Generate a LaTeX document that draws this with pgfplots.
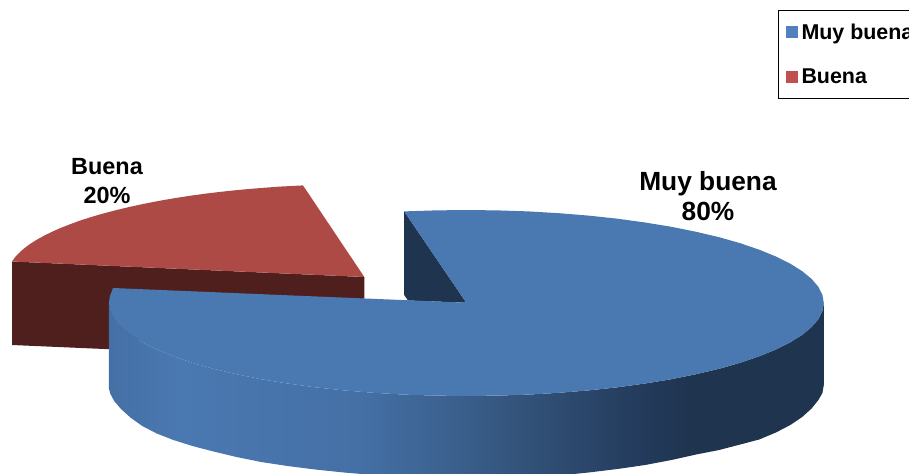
\documentclass[border=0pt]{standalone}
\usepackage{fontspec}
\setmainfont{Liberation Sans}
\usepackage{pgfplots}
\pgfplotsset{compat=1.18}
\definecolor{topblue}{HTML}{4A78B0}
\definecolor{topred}{HTML}{AE4A45}
\definecolor{darkred}{HTML}{4E1F1D}
\definecolor{navy}{HTML}{1F344F}
\definecolor{legblue}{HTML}{4F81BD}
\definecolor{legred}{HTML}{C0504D}
\definecolor{sideA}{HTML}{3A5F8B}
\definecolor{sideB}{HTML}{2F4D72}
\definecolor{sideC}{HTML}{22395A}
\definecolor{sideD}{HTML}{4470A6}
\pgfdeclarehorizontalshading{pieside}{100bp}{
  color(0bp)=(sideD);
  color(25bp)=(sideD);
  color(30bp)=(topblue);
  color(42.6bp)=(sideD);
  color(49.6bp)=(sideA);
  color(55.9bp)=(sideB);
  color(62.9bp)=(sideC);
  color(65.6bp)=(navy);
  color(75bp)=(navy);
  color(100bp)=(navy)}
\begin{document}
\begin{tikzpicture}
\useasboundingbox (0,0) rectangle (909bp,474bp);
\clip (0,0) rectangle (909bp,474bp);
\begin{axis}[
  scale only axis, width=909bp, height=474bp,
  xmin=0, xmax=909, ymin=0, ymax=474, y dir=reverse,
  axis lines=none, clip=true,
  legend style={at={(axis cs:778,10)}, anchor=north west, draw=black, line width=1bp,
    font=\fontsize{21.5}{24}\selectfont\bfseries, inner xsep=7bp, inner ysep=11.5bp,
    row sep=24bp, column sep=2bp, fill=white},
  legend cell align=left,
  legend image code/.code={\fill[#1] (0bp,-5.5bp) rectangle (11bp,5.5bp);},
]
% Buena: side wall
\addplot[fill=darkred, draw=none, forget plot] coordinates {
  (12,261.5) (364.3,277) (364.3,298.5) (200,320) (109,349.2) (12,345) (12,261.5)};
% Buena: top surface
\addplot[fill=topred, draw=none, forget plot] coordinates {
  (364.3,277) (303,185.4) (280,186.6) (265,187.7) (250,188.9) (235,190.3) (220,191.9)
  (205,193.7) (190,195.8) (175,198.1) (160,200.7) (145,203.6) (130,206.8) (115,210.4)
  (100,214.4) (90,217.4) (80,220.6) (70,224.3) (60,228.2) (52,231.8) (45,235.2)
  (37,239.6) (30,244) (25,247.7) (20,252) (16,256) (12,261.5) (364.3,277)};
% Muy buena: inner cut face
\addplot[fill=navy, draw=none, forget plot] coordinates {
  (404.2,211.4) (404.2,295) (408,300.5) (466.3,302.7) (404.2,211.4)};
% Muy buena: outer wall
\addplot[shading=pieside, draw=none, forget plot] coordinates {
  (823.8,303) (822.4,311.1) (818.4,319.1) (811.6,327.1) (802.2,334.8) (790.3,342.3)
  (775.9,349.5) (759.2,356.3) (740.2,362.8) (719.1,368.8) (696.1,374.2) (671.4,379.2)
  (645.1,383.5) (617.4,387.3) (588.6,390.4) (558.8,392.8) (528.4,394.6) (497.5,395.6)
  (466.3,396) (435.1,395.6) (404.2,394.6) (373.8,392.8) (344,390.4) (315.2,387.3)
  (287.5,383.5) (261.2,379.2) (236.5,374.2) (213.5,368.8) (192.4,362.8) (173.4,356.3)
  (156.7,349.5) (142.3,342.3) (130.4,334.8) (121,327.1) (114.2,319.1) (110.2,311.1)
  (108.8,303)
  (108.8,388) (110.2,393.5) (114.2,401) (121,409) (130.4,417.5) (142.3,426) (156.7,433.5)
  (173.4,440) (192.4,446) (213.5,451.5) (236.5,457) (261.2,462) (287.5,466) (315.2,469.5)
  (344,472.5) (373.8,475) (404.2,477) (435.1,478) (466.3,478.5) (497.5,478) (528.4,477)
  (558.8,475.5) (588.6,472.5) (617.4,469) (645.1,465) (671.4,460) (696.1,454.5)
  (719.1,450) (740.2,444.5) (759.2,439.5) (775.9,432.5) (790.3,425) (802.2,417)
  (811.6,408.5) (818.4,400) (822.4,393) (823.8,385) (823.8,303)};
% Muy buena: top surface
\addplot[fill=topblue, draw=none, forget plot] coordinates {
  (466.3,302.7) (404.2,211.4) (435.1,210.4) (466.3,210) (497.5,210.4) (528.4,211.4)
  (558.8,213.2) (588.6,215.6) (617.4,218.7) (645.1,222.5) (671.4,226.8) (696.1,231.8)
  (719.1,237.2) (740.2,243.2) (759.2,249.7) (775.9,256.5) (790.3,263.7) (802.2,271.2)
  (811.6,278.9) (818.4,286.9) (822.4,294.9) (823.8,303)
  (822.4,311.1) (818.4,319.1) (811.6,327.1) (802.2,334.8) (790.3,342.3)
  (775.9,349.5) (759.2,356.3) (740.2,362.8) (719.1,368.8) (696.1,374.2) (671.4,379.2)
  (645.1,383.5) (617.4,387.3) (588.6,390.4) (558.8,392.8) (528.4,394.6) (497.5,395.6)
  (466.3,396) (435.1,395.6) (404.2,394.6) (373.8,392.8) (344,390.4) (315.2,387.3)
  (287.5,383.5) (261.2,379.2) (236.5,374.2) (213.5,368.8) (192.4,362.8) (173.4,356.3)
  (156.7,349.5) (142.3,342.3) (130.4,334.8) (121,327.1) (114.2,319.1) (110.2,311.1)
  (108.8,303) (110,296) (113,288) (466.3,302.7)};
\addlegendimage{legblue}
\addlegendentry{Muy buena}
\addlegendimage{legred}
\addlegendentry{Buena}
\node[align=center, font=\fontsize{26.4}{30}\selectfont\bfseries] at (axis cs:708,196) {Muy buena\\80\%};
\node[align=center, font=\fontsize{23.5}{29}\selectfont\bfseries] at (axis cs:107,181) {Buena\\20\%};
\end{axis}
\end{tikzpicture}
\end{document}
